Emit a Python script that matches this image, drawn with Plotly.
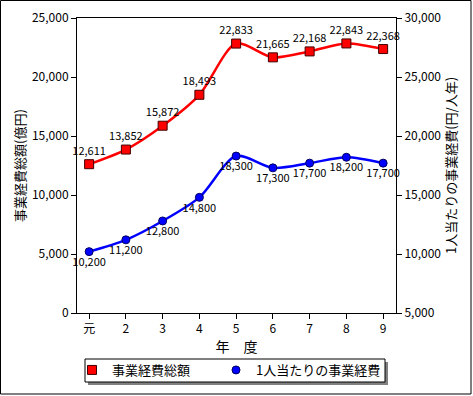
import plotly.graph_objects as go

years = ["元", "2", "3", "4", "5", "6", "7", "8", "9"]
total_cost = [12611, 13852, 15872, 18493, 22833, 21665, 22168, 22843, 22368]
per_person = [10200, 11200, 12800, 14800, 18300, 17300, 17700, 18200, 17700]
total_labels = [f"{v:,}" for v in total_cost]
per_labels = [f"{v:,}" for v in per_person]

FONT = "Noto Sans CJK JP"
W, H = 473, 396
L, R, T, B = 77, 77, 18, 83
PW, PH = W - L - R, H - T - B

def px(x):
    return (x - L) / PW

def py(y):
    return (H - B - y) / PH

xs = list(range(len(years)))
red_marker = dict(symbol="square", size=9, color="#ff0000", line=dict(color="#400000", width=1))
blue_marker = dict(symbol="circle", size=8, color="#0000ff", line=dict(color="#000060", width=1))

fig = go.Figure()
fig.add_trace(go.Scatter(
    x=xs, y=total_cost, mode="lines+markers+text",
    text=total_labels, textposition="top center",
    textfont=dict(family=FONT, size=11, color="black"),
    line=dict(color="#ff0000", width=2.5, shape="spline", smoothing=0.8),
    marker=red_marker, showlegend=False, cliponaxis=False,
))
fig.add_trace(go.Scatter(
    x=xs, y=per_person, mode="lines+markers+text", yaxis="y2",
    text=per_labels, textposition="bottom center",
    textfont=dict(family=FONT, size=11, color="black"),
    line=dict(color="#0000ff", width=2.5, shape="spline", smoothing=0.8),
    marker=blue_marker, showlegend=False, cliponaxis=False,
))
# legend entries (marker only, as in the reference legend)
fig.add_trace(go.Scatter(x=[None], y=[None], mode="markers", marker=red_marker,
                         name="事業経費総額", showlegend=True, legendwidth=99))
fig.add_trace(go.Scatter(x=[None], y=[None], mode="markers", marker=blue_marker,
                         name="1人当たりの事業経費", showlegend=True, yaxis="y2"))

fig.update_layout(
    width=W, height=H,
    margin=dict(l=L, r=R, t=T, b=B, autoexpand=False),
    paper_bgcolor="white", plot_bgcolor="white",
    font=dict(family=FONT, size=12, color="black"),
    xaxis=dict(
        tickmode="array", tickvals=xs, ticktext=years,
        range=[-0.33, 8.35], showgrid=False, zeroline=False,
        showline=True, linecolor="black", linewidth=1, mirror=True,
        ticks="outside", ticklen=5, tickcolor="black",
        tickfont=dict(family=FONT, size=12),
        title=dict(text="年　度", font=dict(family=FONT, size=14), standoff=0),
    ),
    yaxis=dict(
        range=[0, 25000], tickvals=[0, 5000, 10000, 15000, 20000, 25000],
        tickformat=",d", showgrid=False, zeroline=False,
        showline=True, linecolor="black", linewidth=1,
        ticks="outside", ticklen=5, tickcolor="black",
        tickfont=dict(family=FONT, size=12),
        title=dict(text="事業経費総額(億円)", font=dict(family=FONT, size=13), standoff=3),
    ),
    yaxis2=dict(
        range=[5000, 30000], tickvals=[5000, 10000, 15000, 20000, 25000, 30000],
        tickformat=",d", overlaying="y", side="right", showgrid=False, zeroline=False,
        showline=True, linecolor="black", linewidth=1,
        ticks="outside", ticklen=5, tickcolor="black",
        tickfont=dict(family=FONT, size=12),
        title=dict(text="1人当たりの事業経費(円/人年)", font=dict(family=FONT, size=13), standoff=5),
    ),
    legend=dict(
        orientation="h", x=px(72), y=py(355), xanchor="left", yanchor="top",
        bgcolor="rgba(0,0,0,0)", borderwidth=0,
        font=dict(family=FONT, size=13), itemwidth=30,
    ),
    shapes=[
        dict(type="rect", xref="paper", yref="paper",
             x0=px(88), x1=px(388), y0=py(385), y1=py(362),
             fillcolor="#808080", line=dict(width=0), layer="above"),
        dict(type="rect", xref="paper", yref="paper",
             x0=px(85), x1=px(385), y0=py(382), y1=py(359),
             fillcolor="white", line=dict(color="black", width=1), layer="above"),
        dict(type="rect", xref="paper", yref="paper",
             x0=px(0.5), x1=px(471), y0=py(394), y1=py(0.5),
             line=dict(color="black", width=1), fillcolor="rgba(0,0,0,0)", layer="above"),
    ],
)

fig.write_html("out.html", config={"displayModeBar": False},
               post_script="document.body.style.margin='0';")
